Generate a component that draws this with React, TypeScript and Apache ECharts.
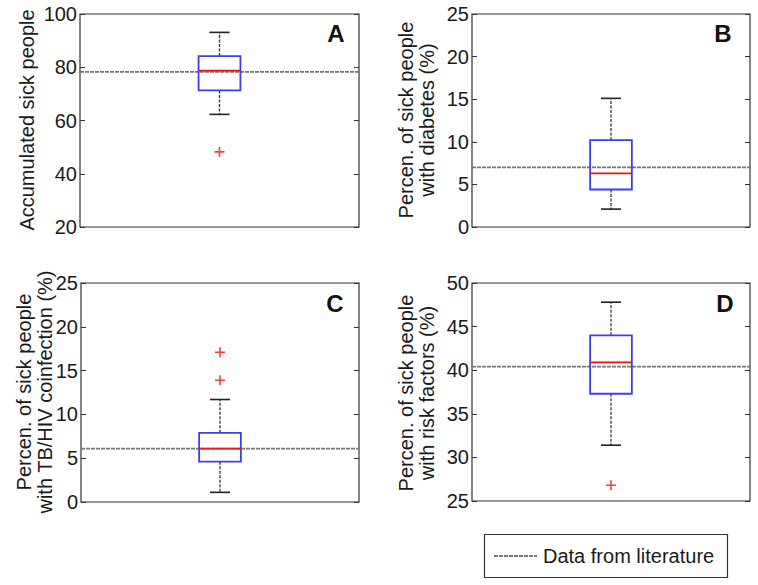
import React, { useEffect, useRef } from "react";
import * as echarts from "echarts";

// ---- data ----
const panelLetters = ["A", "B", "C", "D"];
const yTitles = [
  "Accumulated sick people",
  "Percen. of sick people\nwith diabetes (%)",
  "Percen. of sick people\nwith TB/HIV coinfection (%)",
  "Percen. of sick people\nwith risk factors (%)",
];
// [lower whisker, Q1, median, Q3, upper whisker]
const boxA = [62.3, 71.3, 78.7, 84.2, 93.1];
const boxB = [2.1, 4.4, 6.3, 10.2, 15.1];
const boxC = [1.1, 4.6, 6.1, 7.9, 11.7];
const boxD = [31.4, 37.3, 40.9, 44.0, 47.8];
const outliersA = [48.2];
const outliersB: number[] = [];
const outliersC = [17.1, 13.9];
const outliersD = [26.8];
const literature = [78.3, 7.0, 6.1, 40.4];
const yMin = [20, 0, 0, 25];
const yMax = [100, 25, 25, 50];
const yInterval = [20, 5, 5, 5];
const legendLabel = "Data from literature";

const boxes = [boxA, boxB, boxC, boxD];
const outliers = [outliersA, outliersB, outliersC, outliersD];

const FONT = "'Liberation Sans', Arial, sans-serif";
const grids = [
  { left: 80, top: 14, width: 279, height: 213 },
  { left: 472, top: 14, width: 278, height: 213 },
  { left: 81, top: 283, width: 278, height: 219 },
  { left: 472, top: 283, width: 278, height: 218 },
];
const titlePos = [
  [27, 120],
  [416, 120],
  [34, 392],
  [416, 393],
];
const letterPos = [
  [336, 33],
  [723, 33],
  [335, 303],
  [725, 303],
];

const PLUS = "path://M4.2,0H5.8V4.2H10V5.8H5.8V10H4.2V5.8H0V4.2H4.2Z";

export default function App() {
  const ref = useRef<HTMLDivElement>(null);
  useEffect(() => {
    if (!ref.current) return;
    const chart = echarts.init(ref.current, undefined, { renderer: "svg" });
    const xAxis: any[] = [];
    const yAxis: any[] = [];
    const series: any[] = [];
    grids.forEach((g, i) => {
      xAxis.push({
        type: "value",
        gridIndex: i,
        min: 0,
        max: 1,
        show: false,
      });
      yAxis.push({
        type: "value",
        gridIndex: i,
        min: yMin[i],
        max: yMax[i],
        interval: yInterval[i],
        position: "left",
        axisLine: { show: false },
        axisTick: { show: true, inside: true, length: 5, lineStyle: { color: "#333" } },
        axisLabel: { fontFamily: FONT, fontSize: 20, color: "#1a1a1a", margin: 3 },
        splitLine: { show: false },
      });
      yAxis.push({
        type: "value",
        gridIndex: i,
        min: yMin[i],
        max: yMax[i],
        interval: yInterval[i],
        position: "right",
        axisLine: { show: false },
        axisTick: { show: true, inside: true, length: 5, lineStyle: { color: "#333" } },
        axisLabel: { show: false },
        splitLine: { show: false },
      });
      const yIdx = i * 2;
      series.push({
        type: "line",
        xAxisIndex: i,
        yAxisIndex: yIdx,
        data: [
          [0, literature[i]],
          [1, literature[i]],
        ],
        symbol: "none",
        lineStyle: { color: "#777", width: 1.8, type: [4, 1] },
        z: 1,
      });
      series.push({
        type: "custom",
        xAxisIndex: i,
        yAxisIndex: yIdx,
        data: [[0.5, ...boxes[i]]],
        encode: { x: 0, y: [1, 2, 3, 4, 5] },
        z: 3,
        renderItem: (_p: any, api: any) => {
          const x = api.value(0);
          const lo = api.coord([x, api.value(1)]);
          const q1 = api.coord([x, api.value(2)]);
          const med = api.coord([x, api.value(3)]);
          const q3 = api.coord([x, api.value(4)]);
          const hi = api.coord([x, api.value(5)]);
          const hw = api.size([0.15, 0])[0] / 2;
          const cw = api.size([0.072, 0])[0] / 2;
          const cx = lo[0];
          const dash = { stroke: "#333", lineWidth: 1.3, lineDash: [3, 1.5] };
          const solid = { stroke: "#222", lineWidth: 1.6 };
          return {
            type: "group",
            children: [
              { type: "line", shape: { x1: cx, y1: q3[1], x2: cx, y2: hi[1] }, style: dash },
              { type: "line", shape: { x1: cx, y1: q1[1], x2: cx, y2: lo[1] }, style: dash },
              { type: "line", shape: { x1: cx - cw, y1: hi[1], x2: cx + cw, y2: hi[1] }, style: solid },
              { type: "line", shape: { x1: cx - cw, y1: lo[1], x2: cx + cw, y2: lo[1] }, style: solid },
              {
                type: "rect",
                shape: { x: cx - hw, y: q3[1], width: hw * 2, height: q1[1] - q3[1] },
                style: { fill: "none", stroke: "#3c3cf0", lineWidth: 1.8 },
              },
              {
                type: "line",
                shape: { x1: cx - hw, y1: med[1], x2: cx + hw, y2: med[1] },
                style: { stroke: "#ee1111", lineWidth: 1.8 },
              },
            ],
          };
        },
      });
      series.push({
        type: "scatter",
        xAxisIndex: i,
        yAxisIndex: yIdx,
        data: outliers[i].map((v) => [0.5, v]),
        symbol: PLUS,
        symbolSize: 10,
        itemStyle: { color: "#ee1111" },
        z: 4,
      });
    });

    const graphics: any[] = panelLetters.map((t, i) => ({
      type: "text",
      x: letterPos[i][0],
      y: letterPos[i][1],
      style: {
        text: t,
        fontFamily: FONT,
        fontWeight: "bold",
        fontSize: 24,
        fill: "#111",
        align: "center",
        verticalAlign: "middle",
      },
    }));
    yTitles.forEach((t, i) => {
      graphics.push({
        type: "text",
        x: titlePos[i][0],
        y: titlePos[i][1],
        rotation: Math.PI / 2,
        style: {
          text: t,
          fontFamily: FONT,
          fontSize: 20,
          lineHeight: 21,
          fill: "#1a1a1a",
          align: "center",
          verticalAlign: "middle",
        },
      });
    });
    graphics.push(
      {
        type: "rect",
        shape: { x: 484.5, y: 534.5, width: 243, height: 43 },
        style: { fill: "#fff", stroke: "#333", lineWidth: 1.2 },
      },
      {
        type: "line",
        shape: { x1: 494, y1: 556, x2: 537, y2: 556 },
        style: { stroke: "#777", lineWidth: 1.8, lineDash: [4, 1] },
      },
      {
        type: "text",
        x: 543,
        y: 556,
        style: {
          text: legendLabel,
          fontFamily: FONT,
          fontSize: 20,
          fill: "#1a1a1a",
          verticalAlign: "middle",
        },
      }
    );

    chart.setOption({
      animation: false,
      backgroundColor: "#fff",
      grid: grids.map((g) => ({
        ...g,
        show: true,
        borderColor: "#333",
        borderWidth: 1.2,
        backgroundColor: "transparent",
        containLabel: false,
      })),
      xAxis,
      yAxis,
      series,
      graphic: graphics,
    });
    return () => chart.dispose();
  }, []);
  return (
    <div
      ref={ref}
      style={{ position: "absolute", left: 0, top: 0, width: 758, height: 585 }}
    />
  );
}
